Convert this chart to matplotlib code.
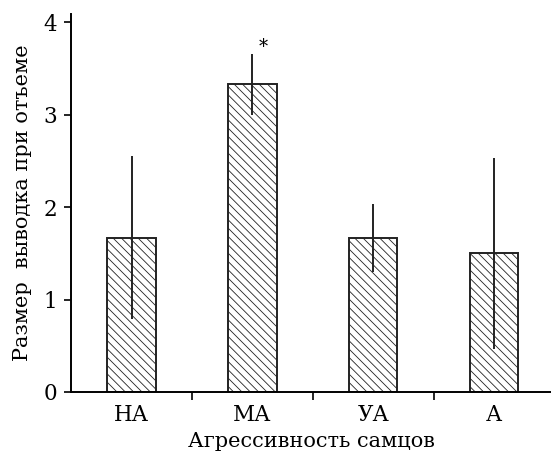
import numpy as np
import matplotlib.pyplot as plt

# данные
categories = ['НА', 'МА', 'УА', 'А']
means = [1.67, 3.33, 1.67, 1.50]
errors = [0.88, 0.33, 0.37, 1.03]

plt.rcParams['font.family'] = ['DejaVu Serif']
plt.rcParams['hatch.linewidth'] = 0.6

fig = plt.figure(figsize=(5.51, 4.55), dpi=100)
ax = fig.add_axes([0.129, 0.1385, 0.871, 0.8305])

x = np.arange(len(categories))
ax.bar(x, means, width=0.4, color='white', edgecolor='#222222',
       linewidth=1.4, hatch='\\\\\\\\')
ax.errorbar(x, means, yerr=errors, fmt='none', ecolor='#222222',
            elinewidth=1.4, capsize=0)

# звездочка над МА
ax.text(x[1] + 0.09, means[1] + errors[1] - 0.02, '*', ha='center',
        va='bottom', fontsize=13)

ax.set_xlim(-0.5, 3.47)
ax.set_ylim(0, 4.09)
ax.set_yticks([0, 1, 2, 3, 4])
ax.set_xticks(x)
ax.set_xticklabels(categories)
ax.set_xticks(x[:-1] + 0.5, minor=True)
ax.tick_params(axis='x', which='major', length=0, pad=9, labelsize=15.5)
ax.tick_params(axis='x', which='minor', length=6, width=1.2)
ax.tick_params(axis='y', length=5, width=1.2, labelsize=15.5, pad=5)

for side in ['top', 'right']:
    ax.spines[side].set_visible(False)
for side in ['left', 'bottom']:
    ax.spines[side].set_linewidth(1.4)

ax.set_xlabel('Агрессивность самцов', fontsize=15, labelpad=4)
ax.set_ylabel('Размер  выводка при отъеме', fontsize=15, labelpad=8)

fig.savefig('out.png', dpi=100)
